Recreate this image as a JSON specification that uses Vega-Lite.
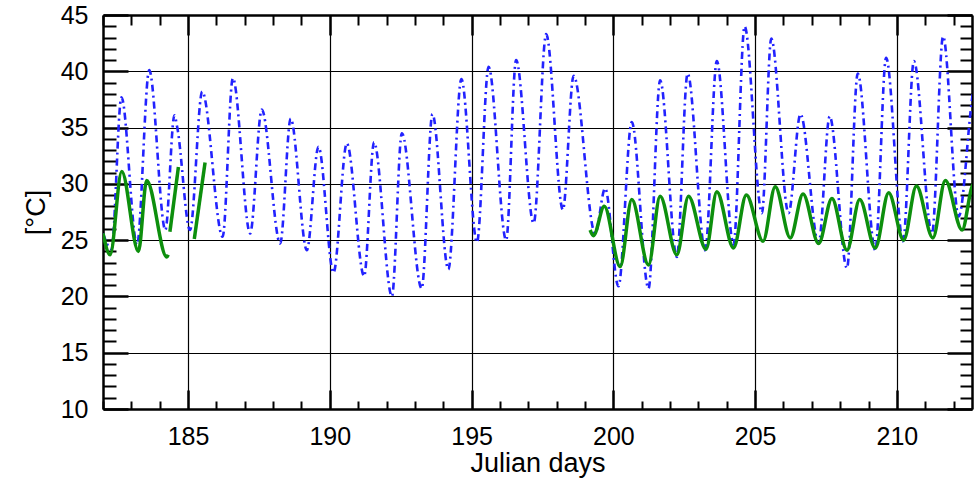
{
  "$schema": "https://vega.github.io/schema/vega-lite/v6.json",
  "width": 869,
  "height": 394,
  "autosize": "none",
  "padding": {"left": 103, "top": 15, "right": 2, "bottom": 72},
  "config": {
    "view": {"stroke": null},
    "font": "Liberation Sans",
    "axis": {
      "domainColor": "black",
      "domainWidth": 2.5,
      "tickColor": "black",
      "labelColor": "black",
      "titleColor": "black",
      "labelFont": "Liberation Sans",
      "titleFont": "Liberation Sans",
      "labelFontSize": 25,
      "titleFontSize": 27,
      "titleFontWeight": "normal",
      "labelOverlap": false,
      "labelFlush": false,
      "gridColor": "black",
      "gridWidth": 1.2
    }
  },
  "data": {
    "values": [
      {"s": "air", "d": 182.0, "t": 25.6},
      {"s": "air", "d": 182.3, "t": 24.2},
      {"s": "air", "d": 182.65, "t": 37.7},
      {"s": "air", "d": 183.2, "t": 24.6},
      {"s": "air", "d": 183.63, "t": 40.1},
      {"s": "air", "d": 184.2, "t": 25.9},
      {"s": "air", "d": 184.52, "t": 36.1},
      {"s": "air", "d": 184.62, "t": 35.0},
      {"s": "air", "d": 185.07, "t": 25.9},
      {"s": "air", "d": 185.5, "t": 38.2},
      {"s": "air", "d": 186.22, "t": 25.3},
      {"s": "air", "d": 186.58, "t": 39.4},
      {"s": "air", "d": 187.19, "t": 25.6},
      {"s": "air", "d": 187.6, "t": 36.6},
      {"s": "air", "d": 188.25, "t": 24.7},
      {"s": "air", "d": 188.62, "t": 35.8},
      {"s": "air", "d": 189.19, "t": 24.1},
      {"s": "air", "d": 189.6, "t": 33.3},
      {"s": "air", "d": 190.13, "t": 22.1},
      {"s": "air", "d": 190.6, "t": 33.6},
      {"s": "air", "d": 191.21, "t": 21.8},
      {"s": "air", "d": 191.56, "t": 33.7},
      {"s": "air", "d": 192.19, "t": 20.0},
      {"s": "air", "d": 192.54, "t": 34.5},
      {"s": "air", "d": 193.24, "t": 20.7},
      {"s": "air", "d": 193.62, "t": 36.2},
      {"s": "air", "d": 194.18, "t": 22.4},
      {"s": "air", "d": 194.64, "t": 39.3},
      {"s": "air", "d": 195.19, "t": 24.8},
      {"s": "air", "d": 195.6, "t": 40.4},
      {"s": "air", "d": 196.22, "t": 25.0},
      {"s": "air", "d": 196.57, "t": 41.0},
      {"s": "air", "d": 197.19, "t": 26.5},
      {"s": "air", "d": 197.63, "t": 43.3},
      {"s": "air", "d": 198.22, "t": 27.7},
      {"s": "air", "d": 198.6, "t": 39.6},
      {"s": "air", "d": 199.36, "t": 25.6},
      {"s": "air", "d": 199.71, "t": 29.6},
      {"s": "air", "d": 200.18, "t": 20.9},
      {"s": "air", "d": 200.65, "t": 35.5},
      {"s": "air", "d": 201.24, "t": 20.7},
      {"s": "air", "d": 201.65, "t": 39.2},
      {"s": "air", "d": 202.24, "t": 23.5},
      {"s": "air", "d": 202.62, "t": 39.8},
      {"s": "air", "d": 203.24, "t": 24.1},
      {"s": "air", "d": 203.65, "t": 40.9},
      {"s": "air", "d": 204.24, "t": 24.6},
      {"s": "air", "d": 204.63, "t": 44.0},
      {"s": "air", "d": 205.24, "t": 27.4},
      {"s": "air", "d": 205.57, "t": 42.9},
      {"s": "air", "d": 206.18, "t": 27.4},
      {"s": "air", "d": 206.6, "t": 36.2},
      {"s": "air", "d": 207.24, "t": 24.7},
      {"s": "air", "d": 207.63, "t": 36.0},
      {"s": "air", "d": 208.24, "t": 22.5},
      {"s": "air", "d": 208.62, "t": 39.8},
      {"s": "air", "d": 209.24, "t": 24.1},
      {"s": "air", "d": 209.62, "t": 41.2},
      {"s": "air", "d": 210.22, "t": 24.9},
      {"s": "air", "d": 210.6, "t": 40.9},
      {"s": "air", "d": 211.24, "t": 25.6},
      {"s": "air", "d": 211.63, "t": 43.1},
      {"s": "air", "d": 212.18, "t": 27.1},
      {"s": "air", "d": 212.65, "t": 37.5},
      {"s": "air", "d": 212.8, "t": 40.0},
      {"s": "g1", "d": 182.0, "t": 25.6},
      {"s": "g1", "d": 182.25, "t": 23.7},
      {"s": "g1", "d": 182.66, "t": 31.1},
      {"s": "g1", "d": 183.25, "t": 24.0},
      {"s": "g1", "d": 183.54, "t": 30.3},
      {"s": "g1", "d": 184.25, "t": 23.5},
      {"s": "g1", "d": 184.3, "t": 23.7},
      {"s": "g2", "d": 184.36, "t": 25.75},
      {"s": "g2", "d": 184.66, "t": 31.5},
      {"s": "g3", "d": 185.22, "t": 25.1},
      {"s": "g3", "d": 185.6, "t": 31.9},
      {"s": "g4", "d": 199.18, "t": 25.9},
      {"s": "g4", "d": 199.3, "t": 25.4},
      {"s": "g4", "d": 199.68, "t": 28.0},
      {"s": "g4", "d": 200.24, "t": 22.65},
      {"s": "g4", "d": 200.65, "t": 28.6},
      {"s": "g4", "d": 201.24, "t": 22.8},
      {"s": "g4", "d": 201.65, "t": 28.9},
      {"s": "g4", "d": 202.24, "t": 23.7},
      {"s": "g4", "d": 202.65, "t": 28.9},
      {"s": "g4", "d": 203.27, "t": 24.2},
      {"s": "g4", "d": 203.65, "t": 29.3},
      {"s": "g4", "d": 204.24, "t": 24.3},
      {"s": "g4", "d": 204.69, "t": 29.0},
      {"s": "g4", "d": 205.28, "t": 24.9},
      {"s": "g4", "d": 205.71, "t": 29.75},
      {"s": "g4", "d": 206.24, "t": 25.2},
      {"s": "g4", "d": 206.69, "t": 29.1},
      {"s": "g4", "d": 207.24, "t": 24.7},
      {"s": "g4", "d": 207.71, "t": 28.7},
      {"s": "g4", "d": 208.24, "t": 24.1},
      {"s": "g4", "d": 208.69, "t": 28.6},
      {"s": "g4", "d": 209.24, "t": 24.3},
      {"s": "g4", "d": 209.71, "t": 29.2},
      {"s": "g4", "d": 210.24, "t": 25.0},
      {"s": "g4", "d": 210.69, "t": 29.8},
      {"s": "g4", "d": 211.27, "t": 25.2},
      {"s": "g4", "d": 211.71, "t": 30.3},
      {"s": "g4", "d": 212.3, "t": 25.9},
      {"s": "g4", "d": 212.65, "t": 29.75},
      {"s": "g4", "d": 212.8, "t": 30.3}
    ]
  },
  "layer": [
    {
      "transform": [{"filter": "datum.s === 'air'"}],
      "mark": {"type": "line", "color": "#2222ff", "strokeWidth": 2.6, "strokeDash": [7, 4, 2, 4], "interpolate": "monotone", "clip": true},
      "encoding": {
        "x": {
          "field": "d", "type": "quantitative",
          "scale": {"domain": [182, 212.65], "nice": false, "zero": false},
          "axis": {
            "orient": "bottom",
            "title": "Julian days",
            "values": [182,183,184,185,186,187,188,189,190,191,192,193,194,195,196,197,198,199,200,201,202,203,204,205,206,207,208,209,210,211,212],
            "labelExpr": "datum.value % 5 === 0 ? datum.label : ''",
            "grid": true,
            "gridOpacity": {"condition": {"test": "datum.value % 5 === 0", "value": 1}, "value": 0},
            "tickSize": {"condition": {"test": "datum.value % 5 === 0", "value": -19}, "value": -8},
            "tickWidth": {"condition": {"test": "datum.value % 5 === 0", "value": 2.5}, "value": 2},
            "labelPadding": 34,
            "titlePadding": -10
          }
        },
        "y": {
          "field": "t", "type": "quantitative",
          "scale": {"domain": [10, 45], "nice": false, "zero": false},
          "axis": {
            "orient": "left",
            "title": "[°C]",
            "values": [10,11,12,13,14,15,16,17,18,19,20,21,22,23,24,25,26,27,28,29,30,31,32,33,34,35,36,37,38,39,40,41,42,43,44,45],
            "labelExpr": "datum.value % 5 === 0 ? datum.label : ''",
            "grid": true,
            "gridOpacity": {"condition": {"test": "datum.value % 5 === 0", "value": 1}, "value": 0},
            "tickSize": {"condition": {"test": "datum.value % 5 === 0", "value": -25}, "value": -13},
            "tickWidth": {"condition": {"test": "datum.value % 5 === 0", "value": 2.5}, "value": 2},
            "labelPadding": 40,
            "titlePadding": 10
          }
        }
      }
    },
    {
      "transform": [{"filter": "datum.s !== 'air'"}],
      "mark": {"type": "line", "color": "#0d8f0d", "strokeWidth": 3.5, "interpolate": "monotone", "clip": true},
      "encoding": {
        "detail": {"field": "s"},
        "x": {
          "field": "d", "type": "quantitative",
          "scale": {"domain": [182, 212.65], "nice": false, "zero": false},
          "axis": {
            "orient": "top",
            "title": null,
            "labels": false,
            "grid": false,
            "values": [182,183,184,185,186,187,188,189,190,191,192,193,194,195,196,197,198,199,200,201,202,203,204,205,206,207,208,209,210,211,212],
            "tickSize": {"condition": {"test": "datum.value % 5 === 0", "value": -20}, "value": -10},
            "tickWidth": {"condition": {"test": "datum.value % 5 === 0", "value": 2.5}, "value": 2}
          }
        },
        "y": {
          "field": "t", "type": "quantitative",
          "scale": {"domain": [10, 45], "nice": false, "zero": false},
          "axis": {
            "orient": "right",
            "title": null,
            "labels": false,
            "grid": false,
            "values": [10,11,12,13,14,15,16,17,18,19,20,21,22,23,24,25,26,27,28,29,30,31,32,33,34,35,36,37,38,39,40,41,42,43,44,45],
            "tickSize": {"condition": {"test": "datum.value % 5 === 0", "value": -25}, "value": -12},
            "tickWidth": {"condition": {"test": "datum.value % 5 === 0", "value": 2.5}, "value": 2}
          }
        }
      }
    }
  ],
  "resolve": {"axis": {"x": "independent", "y": "independent"}}
}
